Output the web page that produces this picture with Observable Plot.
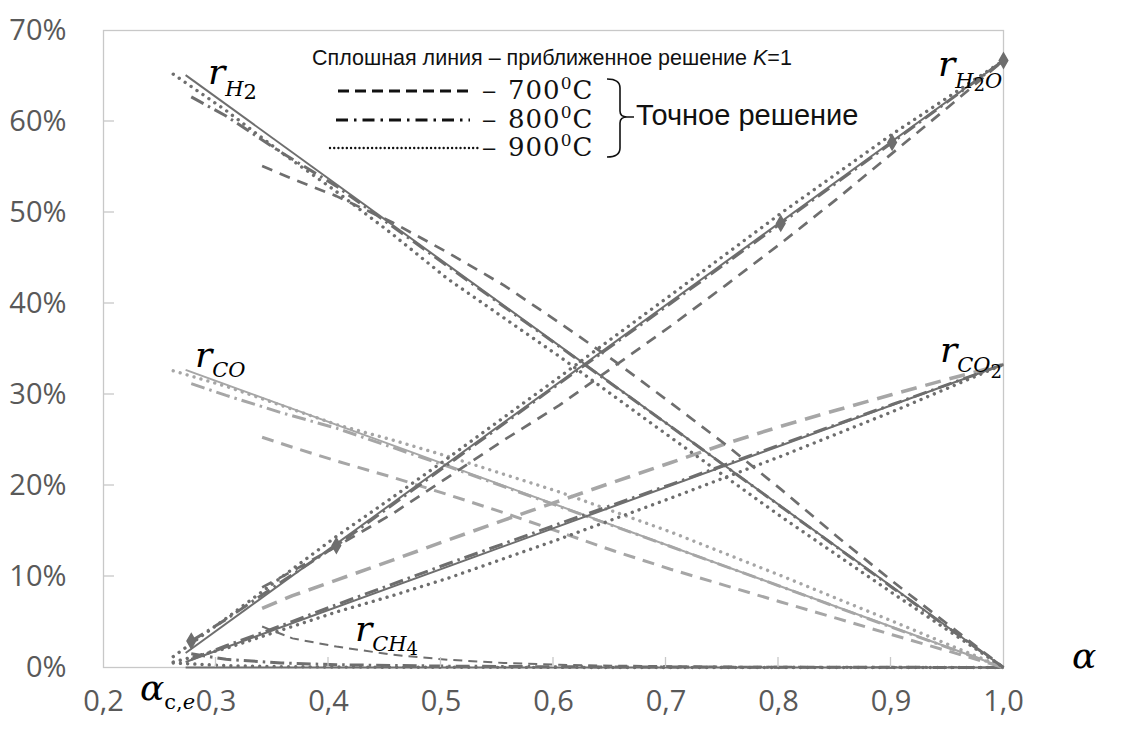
<!DOCTYPE html>
<html><head><meta charset="utf-8">
<script src="https://cdn.jsdelivr.net/npm/d3@7"></script>
<script src="https://cdn.jsdelivr.net/npm/@observablehq/plot@0.6"></script>
<style>
html,body{margin:0;padding:0;background:#fff;}
#wrap{width:1123px;height:729px;}
</style></head><body><div id="wrap"></div>
<script>
// ---- axis ticks ----
const xTickValues = [0.2, 0.3, 0.4, 0.5, 0.6, 0.7, 0.8, 0.9, 1.0];
const xTickLabels = ["0,2", "0,3", "0,4", "0,5", "0,6", "0,7", "0,8", "0,9", "1,0"];
const yTickValues = [0, 10, 20, 30, 40, 50, 60, 70];
const yTickLabels = ["0%", "10%", "20%", "30%", "40%", "50%", "60%", "70%"];

// ---- approximate solution K=1 (solid) ----
const alphaApprox = [0.273, 1.0];
const h2Approx = [65.1, 0];
const h2oApprox = [1.6, 66.7];
const coApprox = [32.7, 0];
const co2Approx = [0.6, 33.3];
const ch4Approx = [0, 0];

// ---- exact solution 700 C (dashed) ----
const alpha700 = [0.341, 0.368, 0.407, 0.457, 0.506, 0.556, 0.605, 0.654, 0.704, 0.753, 0.802, 0.852, 0.901, 0.951, 1.0];
const h2_700  = [55.1, 53.7, 51.8, 48.9, 45.6, 42.0, 37.9, 33.7, 29.1, 24.5, 19.6, 14.4, 9.5, 4.7, 0];
const h2o_700 = [8.8, 10.6, 13.3, 16.9, 20.9, 25.0, 28.8, 33.1, 37.5, 42.0, 46.6, 51.5, 56.5, 61.6, 66.7];
const co_700  = [25.3, 24.2, 22.7, 20.9, 19.0, 17.0, 14.9, 12.8, 10.8, 9.0, 7.2, 5.4, 3.6, 1.8, 0];
const co2_700 = [6.5, 7.9, 9.6, 11.8, 14.0, 16.2, 18.3, 20.4, 22.5, 24.6, 26.5, 28.3, 30.0, 31.7, 33.3];
const ch4_700 = [4.5, 3.2, 2.3, 1.4, 0.85, 0.5, 0.3, 0.2, 0.15, 0.1, 0.08, 0.05, 0.03, 0.02, 0];

// ---- exact solution 800 C (dash-dot) ----
const alpha800 = [0.278, 0.309, 0.358, 0.407, 0.506, 0.605, 0.704, 0.802, 0.901, 1.0];
const h2_800  = [62.7, 60.6, 56.6, 52.9, 44.1, 35.3, 26.5, 17.7, 8.8, 0];
const h2o_800 = [2.9, 5.3, 9.4, 13.4, 22.3, 31.2, 40.0, 48.8, 57.7, 66.7];
const co_800  = [31.2, 29.9, 28.0, 26.3, 22.1, 17.7, 13.3, 8.9, 4.4, 0];
const co2_800 = [0.9, 2.4, 4.6, 6.9, 11.4, 15.8, 20.1, 24.5, 28.9, 33.3];
const ch4_800 = [1.5, 0.9, 0.5, 0.3, 0.15, 0.08, 0.05, 0.03, 0.02, 0];
const markerAlpha800 = [0.278, 0.407, 0.802, 0.901, 1.0];
const markerH2O800 = [2.9, 13.4, 48.8, 57.7, 66.7];

// ---- exact solution 900 C (dotted) ----
const alpha900 = [0.262, 0.309, 0.358, 0.407, 0.457, 0.506, 0.605, 0.704, 0.802, 0.901, 1.0];
const h2_900  = [65.2, 61.2, 56.6, 52.3, 47.6, 42.7, 34.2, 25.3, 16.6, 8.2, 0];
const h2o_900 = [1.2, 5.4, 9.9, 14.4, 18.7, 23.0, 31.9, 40.9, 49.9, 58.6, 66.7];
const co_900  = [32.6, 30.9, 28.8, 26.7, 25.0, 23.2, 19.3, 14.9, 10.1, 5.1, 0];
const co2_900 = [0.6, 2.1, 4.1, 6.1, 7.9, 9.8, 14.1, 18.6, 23.2, 28.1, 33.3];
const ch4_900 = [0.5, 0.2, 0.1, 0.05, 0.03, 0.02, 0.01, 0, 0, 0, 0];

const DARK = "#6e6e6e", LIGHT = "#a6a6a6";
const SOLID = {width: 2, dash: null, cap: "butt"};
const DASH = {width: 2.7, dash: "11,8", cap: "butt"};
const DASHDOT = {width: 3, dash: "14,5,2.5,5", cap: "butt"};
const DOT = {width: 3.4, dash: "0.01,7.2", cap: "round"};

const series = [
  {a: alphaApprox, v: ch4Approx, c: DARK, s: SOLID},
  {a: alpha900, v: ch4_900, c: DARK, s: DOT},
  {a: alpha800, v: ch4_800, c: DARK, s: DASHDOT},
  {a: alpha700, v: ch4_700, c: DARK, s: {width: 2, dash: "9,6", cap: "butt"}},
  {a: alpha700, v: co_700, c: LIGHT, s: {width: 3, dash: "12,8", cap: "butt"}},
  {a: alpha700, v: co2_700, c: LIGHT, s: {width: 3.6, dash: "16,9", cap: "butt"}},
  {a: alpha900, v: co_900, c: LIGHT, s: DOT},
  {a: alpha800, v: co_800, c: LIGHT, s: DASHDOT},
  {a: alphaApprox, v: coApprox, c: LIGHT, s: SOLID},
  {a: alpha900, v: co2_900, c: DARK, s: DOT},
  {a: alpha800, v: co2_800, c: DARK, s: DASHDOT},
  {a: alphaApprox, v: co2Approx, c: DARK, s: SOLID},
  {a: alpha700, v: h2_700, c: DARK, s: DASH},
  {a: alpha700, v: h2o_700, c: DARK, s: DASH},
  {a: alpha900, v: h2_900, c: DARK, s: DOT},
  {a: alpha900, v: h2o_900, c: DARK, s: DOT},
  {a: alpha800, v: h2_800, c: DARK, s: DASHDOT},
  {a: alpha800, v: h2o_800, c: DARK, s: DASHDOT},
  {a: alphaApprox, v: h2Approx, c: DARK, s: SOLID},
  {a: alphaApprox, v: h2oApprox, c: DARK, s: SOLID}
];

const lineMarks = series.map(sr => Plot.line(
  sr.a.map((a, i) => ({a, v: sr.v[i]})),
  {x: "a", y: "v", stroke: sr.c, strokeWidth: sr.s.width,
   strokeDasharray: sr.s.dash, strokeLinecap: sr.s.cap, strokeLinejoin: "round"}
));

const markers = markerAlpha800.map((a, i) => ({a, v: markerH2O800[i]}));

const chart = Plot.plot({
  width: 1123, height: 729,
  marginLeft: 103, marginRight: 120, marginTop: 30, marginBottom: 62,
  style: {fontFamily: "'Open Sans', sans-serif", background: "#fff"},
  x: {domain: [0.2, 1.0], axis: null},
  y: {domain: [0, 70], axis: null},
  marks: [
    Plot.frame({stroke: "#c8c8c8", strokeWidth: 1.3}),
    ...lineMarks,
    Plot.dot(markers, {x: "a", y: "v", symbol: "diamond", r: 4.5, fill: DARK, stroke: DARK}),
    Plot.text(xTickValues, {x: d => d, frameAnchor: "bottom", dy: 43,
      text: (d, i) => xTickLabels[i], fontSize: 29, fill: "#595959", textAnchor: "middle"}),
    Plot.text(yTickValues, {y: d => d, frameAnchor: "left", dx: -37,
      text: (d, i) => yTickLabels[i], fontSize: 29, fill: "#595959", textAnchor: "end"})
  ]
});

const X = chart.scale("x"), Y = chart.scale("y");
const svg = d3.select(chart);

// inside tick marks
const tickG = svg.append("g").attr("stroke", "#c8c8c8").attr("stroke-width", 1.3);
xTickValues.slice(1, -1).forEach(t => {
  tickG.append("line").attr("x1", X.apply(t)).attr("x2", X.apply(t))
    .attr("y1", Y.apply(0)).attr("y2", Y.apply(0) - 10);
});
yTickValues.slice(1, -1).forEach(t => {
  tickG.append("line").attr("x1", X.apply(0.2)).attr("x2", X.apply(0.2) + 11)
    .attr("y1", Y.apply(t)).attr("y2", Y.apply(t));
});

// math labels with subscripts
const mathFont = "'DejaVu Serif', serif";
function mathLabel(a, v, parts) {
  const t = svg.append("text").attr("x", X.apply(a)).attr("y", Y.apply(v))
    .attr("text-anchor", "start").attr("font-family", mathFont).attr("fill", "#000");
  parts.forEach(p => {
    const ts = t.append("tspan").text(p.t).attr("font-size", p.size)
      .attr("font-style", p.it ? "italic" : "normal");
    if (p.dy) ts.attr("dy", p.dy);
  });
}
const R = 36, S = 21;
mathLabel(0.2933, 64.1, [{t: "r", size: R, it: true}, {t: "H", size: S, it: true, dy: 12}, {t: "2", size: S, dy: 3}]);
mathLabel(0.9422, 65.0, [{t: "r", size: R, it: true}, {t: "H", size: S, it: true, dy: 12}, {t: "2", size: S - 3, dy: 3}, {t: "O", size: S, it: true, dy: -3}]);
mathLabel(0.2818, 32.95, [{t: "r", size: R, it: true}, {t: "CO", size: S, it: true, dy: 10}]);
mathLabel(0.944, 33.5, [{t: "r", size: R, it: true}, {t: "CO", size: S, it: true, dy: 10}, {t: "2", size: S - 3, dy: 6}]);
mathLabel(0.424, 2.9, [{t: "r", size: R, it: true}, {t: "CH", size: S, it: true, dy: 10}, {t: "4", size: S - 3, dy: 4}]);
mathLabel(1.0613, -0.1, [{t: "α", size: 36, it: true}]);
mathLabel(0.2329, -3.6, [{t: "α", size: 36, it: true}, {t: "c,", size: S, dy: 9}, {t: "e", size: S, it: true}]);

// legend
const lg = svg.append("g").attr("text-anchor", "start");
lg.append("text").attr("x", 312).attr("y", 65)
  .attr("font-family", "'Liberation Sans', Arial, sans-serif").attr("font-size", 21.5).attr("fill", "#111")
  .call(t => { t.append("tspan").text("Сплошная линия – приближенное решение ");
               t.append("tspan").text("K").attr("font-style", "italic");
               t.append("tspan").text("=1"); });
const rows = [
  {x1: 338, x2: 470, y: 91, dash: "11,6", cap: "butt", w: 3.2, label: "700", by: 99},
  {x1: 336, x2: 470, y: 120, dash: "12,6,2.5,6", cap: "butt", w: 3.2, label: "800", by: 128},
  {x1: 330, x2: 478, y: 148, dash: "0.01,4.2", cap: "round", w: 2.4, label: "900", by: 156}
];
rows.forEach(r => {
  lg.append("line").attr("x1", r.x1).attr("x2", r.x2).attr("y1", r.y).attr("y2", r.y)
    .attr("stroke", "#111").attr("stroke-width", r.w).attr("stroke-dasharray", r.dash).attr("stroke-linecap", r.cap);
  lg.append("text").attr("x", 483).attr("y", r.by - 1).attr("font-family", "'Liberation Sans', sans-serif")
    .attr("font-size", 22).attr("fill", "#111").text("–");
  const t = lg.append("text").attr("x", 508).attr("y", r.by).attr("font-family", mathFont).attr("fill", "#111")
    .attr("letter-spacing", 1);
  t.append("tspan").text(r.label).attr("font-size", 26);
  t.append("tspan").text("0").attr("font-size", 17).attr("dy", -10);
  t.append("tspan").text("C").attr("font-size", 26).attr("dy", 10);
});
lg.append("path")
  .attr("d", "M607,79 Q620,79 620,88 L620,111 Q620,117 627,117 L634,117 M627,117 Q620,117 620,123 L620,148 Q620,157 607,157")
  .attr("fill", "none").attr("stroke", "#111").attr("stroke-width", 1.6);
lg.append("text").attr("x", 636).attr("y", 125).attr("font-family", "'Liberation Sans', sans-serif")
  .attr("font-size", 29).attr("fill", "#111").text("Точное решение");

document.getElementById("wrap").appendChild(chart);
</script>
</body></html>
